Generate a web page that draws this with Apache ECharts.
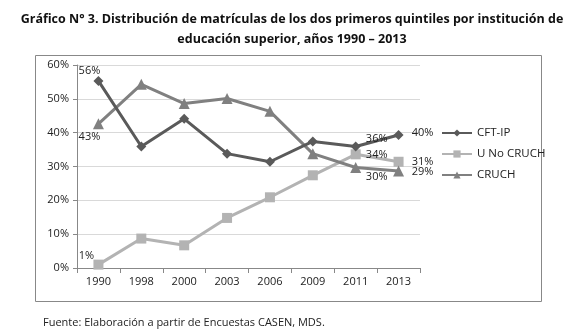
<!DOCTYPE html>
<html><head><meta charset="utf-8">
<script src="https://cdn.jsdelivr.net/npm/echarts@6/dist/echarts.min.js"></script>
<style>html,body{margin:0;padding:0;background:#fff}#c{width:585px;height:334px}</style>
</head><body><div id="c"></div>
<script>
const categories = ['1990','1998','2000','2003','2006','2009','2011','2013'];
const cftIp = [55.3, 35.9, 44.1, 33.8, 31.4, 37.4, 35.9, 39.3];
const uNoCruch = [1.0, 8.7, 6.7, 14.8, 20.9, 27.4, 33.6, 31.4];
const cruch = [42.6, 54.3, 48.6, 50.1, 46.3, 33.8, 29.7, 28.7];
const yTicks = [0, 10, 20, 30, 40, 50, 60];
// labels shown: index -> text
const cftLabels = {0: '56%', 6: '36%', 7: '40%'};
const uLabels = {0: '1%', 6: '34%', 7: '31%'};
const cruchLabels = {0: '43%', 6: '30%', 7: '29%'};

const FONT = 'Open Sans';
function build(vals, labels, offsets) {
  return vals.map((v, i) => {
    if (labels[i] === undefined) return v;
    const o = offsets[i] || [0, 0];
    return {value: v, label: {show: true, formatter: labels[i], position: 'inside', offset: o,
      color: '#222', fontFamily: FONT, fontSize: 11}};
  });
}
const chart = echarts.init(document.getElementById('c'));
chart.setOption({
  animation: false,
  title: [{
    text: 'Fuente: Elaboración a partir de Encuestas CASEN, MDS.', left: 38, top: 312,
    textStyle: {fontFamily: FONT, fontWeight: 'normal', fontSize: 11, color: '#222'}
  }],
  graphic: [{type: 'rect', shape: {x: 35.5, y: 55.5, width: 506, height: 246},
    style: {fill: 'none', stroke: '#888', lineWidth: 1}, silent: true, z: -1},
    {type: 'text', x: 292, y: 9, silent: true, style: {
      text: 'Gráfico N° 3. Distribución de matrículas de los dos primeros quintiles por institución de\neducación superior, años 1990 – 2013',
      fontFamily: FONT, fontWeight: 'bold', fontSize: 12.5, fill: '#111', lineHeight: 20, align: 'center'}}],
  legend: {
    orient: 'vertical', left: 436, top: 122, itemGap: 9, itemWidth: 30, itemHeight: 9,
    textStyle: {fontFamily: FONT, fontSize: 11.5, color: '#222'},
    data: ['CFT-IP', 'U No CRUCH', 'CRUCH']
  },
  grid: {left: 77, right: 165, top: 65, bottom: 66},
  xAxis: {
    type: 'category', data: categories, boundaryGap: true,
    axisLine: {lineStyle: {color: '#888'}},
    axisTick: {show: true, length: 5, lineStyle: {color: '#888'}},
    axisLabel: {fontFamily: FONT, fontSize: 11, color: '#222', margin: 8}
  },
  yAxis: {
    type: 'value', min: 0, max: 60, interval: 10,
    axisLine: {show: true, lineStyle: {color: '#888'}},
    axisTick: {show: true, length: 4, lineStyle: {color: '#888'}},
    splitLine: {lineStyle: {color: '#d9d9d9'}},
    axisLabel: {fontFamily: FONT, fontSize: 11, color: '#222', margin: 8,
      formatter: v => yTicks.includes(v) ? v + '%' : ''}
  },
  series: [{
    name: 'CFT-IP', type: 'line', data: build(cftIp, cftLabels, {0: [-9, -10], 6: [21, -8], 7: [24, -2]}),
    color: '#5a5a5a', symbol: 'diamond', symbolSize: 10, lineStyle: {width: 3, color: '#5a5a5a'},
    itemStyle: {color: '#5a5a5a'}, z: 4
  }, {
    name: 'U No CRUCH', type: 'line', data: build(uNoCruch, uLabels, {0: [-12, -9], 6: [21, 1], 7: [24, 0]}),
    color: '#b3b3b3', symbol: 'rect', symbolSize: 10, lineStyle: {width: 3, color: '#b3b3b3'},
    itemStyle: {color: '#b3b3b3'}, z: 2
  }, {
    name: 'CRUCH', type: 'line', data: build(cruch, cruchLabels, {0: [-9, 13], 6: [21, 9], 7: [24, 1]}),
    color: '#808080', symbol: 'triangle', symbolSize: 11, lineStyle: {width: 3, color: '#808080'},
    itemStyle: {color: '#808080'}, z: 3
  }]
});
</script></body></html>
